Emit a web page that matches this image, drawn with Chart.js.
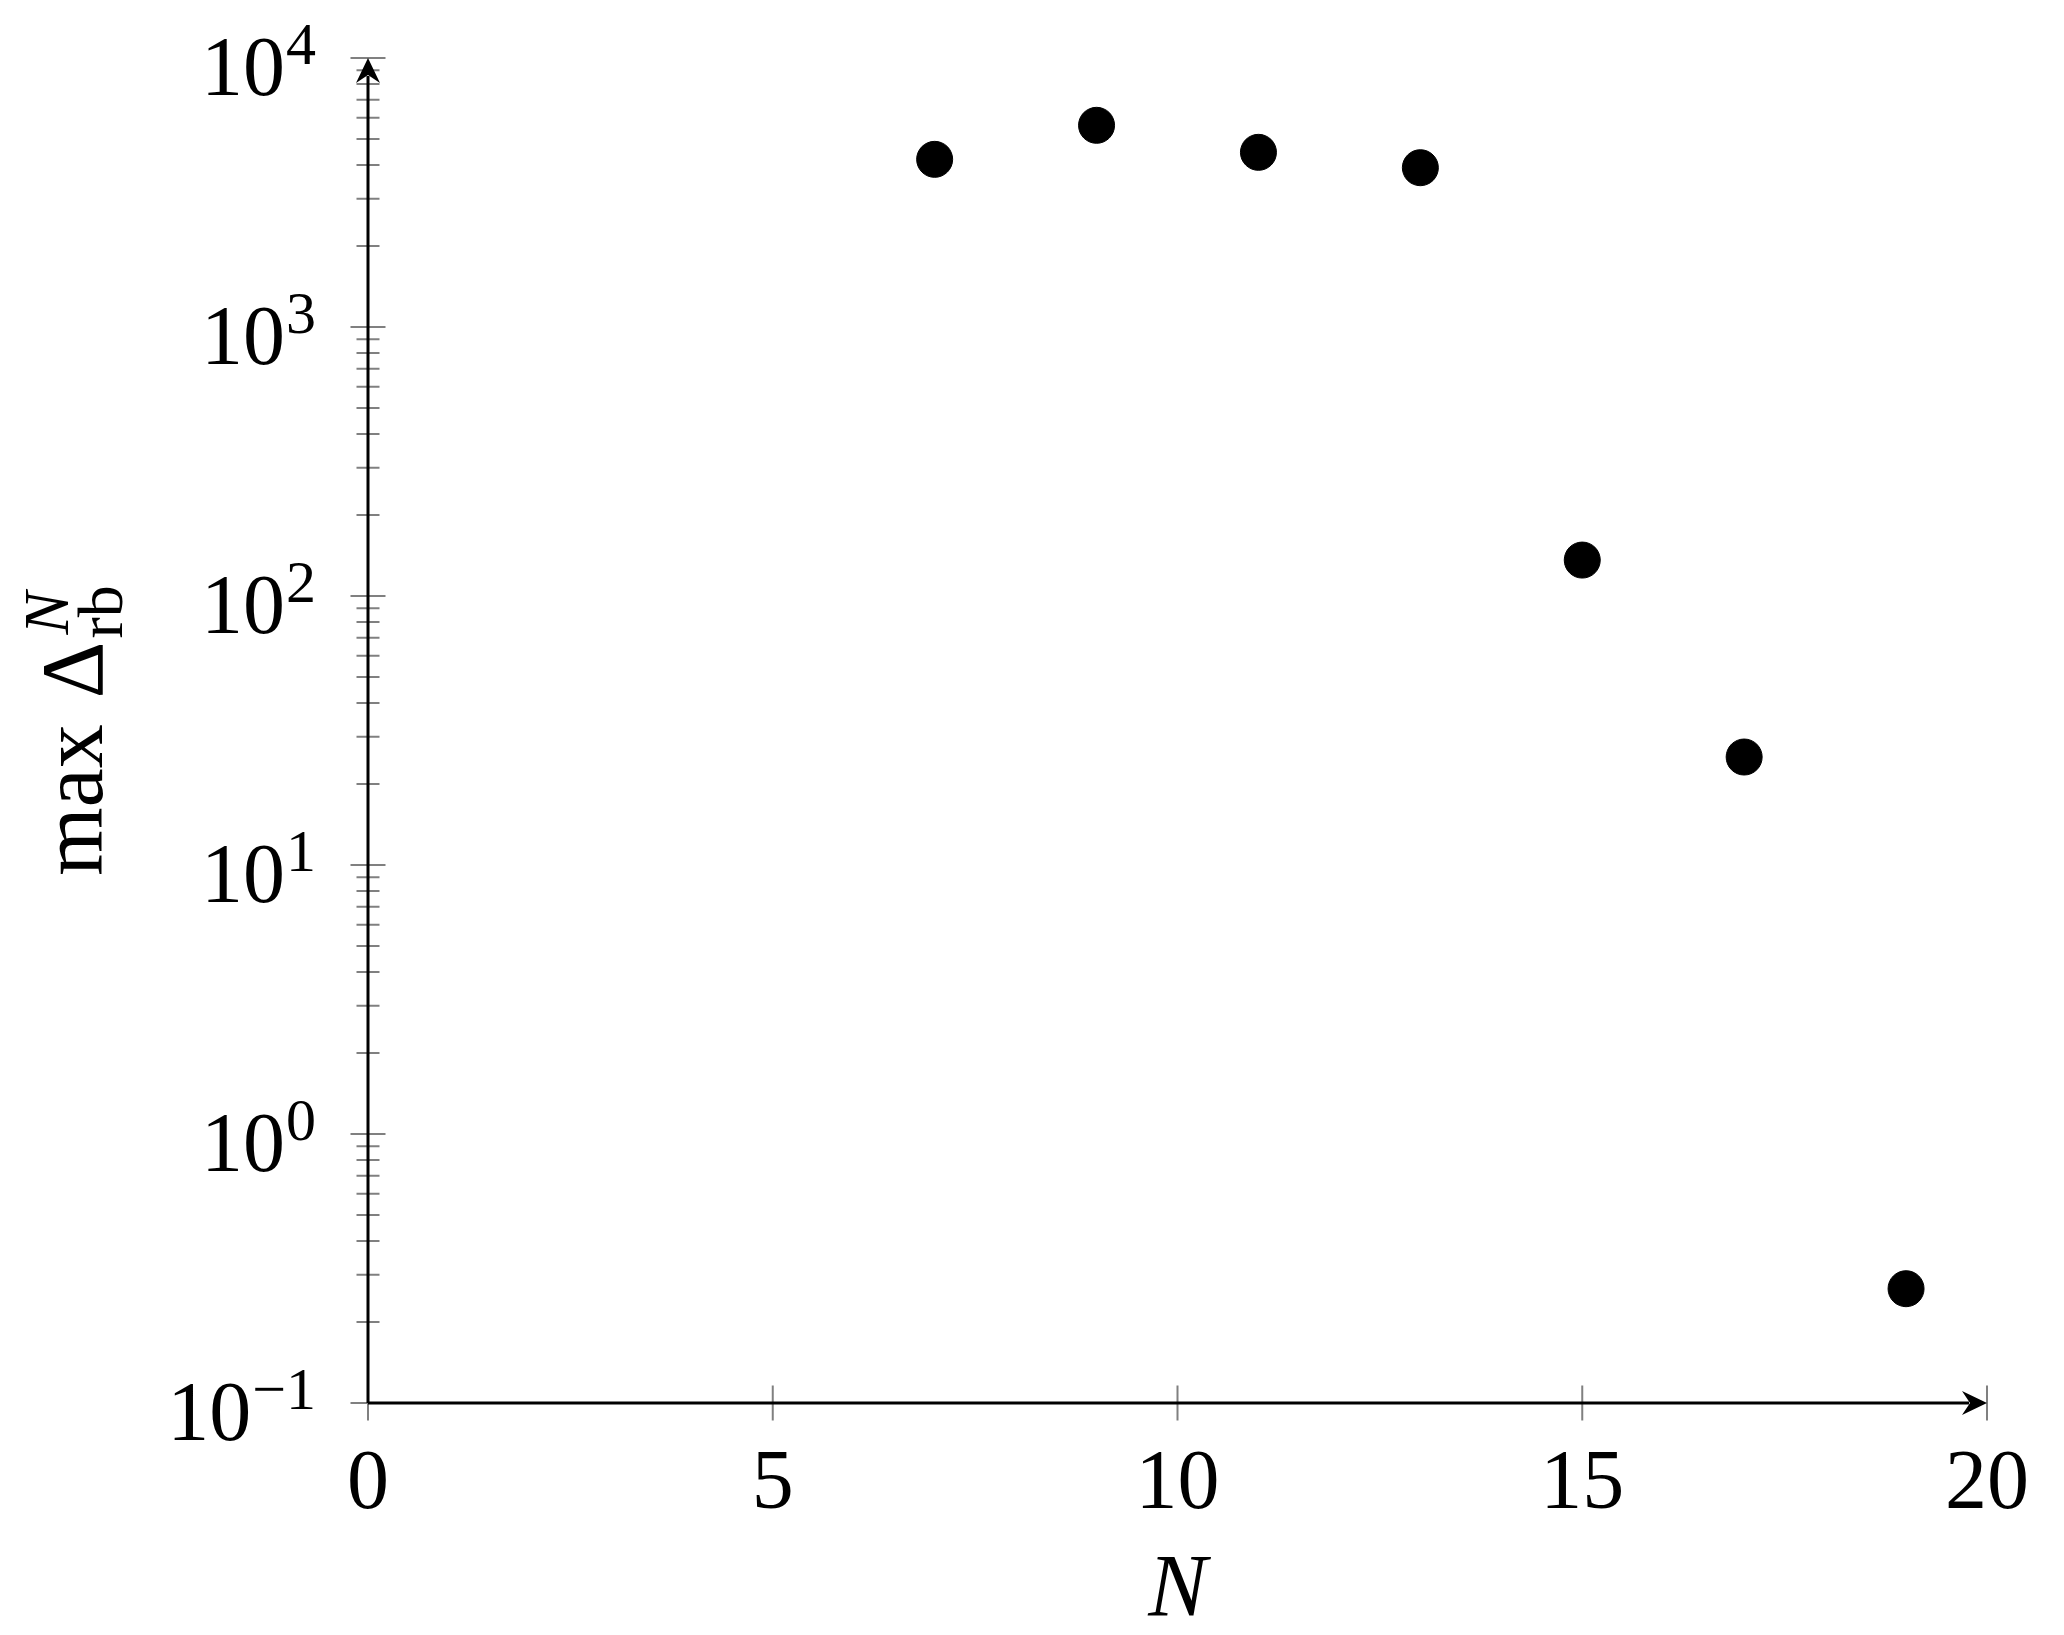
<!DOCTYPE html>
<html>
<head>
<meta charset="utf-8">
<script src="https://cdn.jsdelivr.net/npm/chart.js@4.4.0/dist/chart.umd.min.js"></script>
<style>
  body { margin: 0; background: #fff; }
</style>
</head>
<body>
<canvas id="deltaChart" width="2064" height="1635"></canvas>
<script>
// data
const nValues = [7, 9, 11, 13, 15, 17, 19];
const maxDelta = [4200, 5620, 4460, 3910, 136, 25.2, 0.266];
const xTicks = [0, 5, 10, 15, 20];
const yExponents = [-1, 0, 1, 2, 3, 4];

const SERIF = '"Liberation Serif", "DejaVu Serif", serif';

function arrowHead(ctx, tipX, tipY, dx, dy) {
  // stealth-ish arrow like tikz
  const len = 25, half = 12, notch = 17;
  const px = -dy, py = dx;
  ctx.beginPath();
  ctx.moveTo(tipX, tipY);
  ctx.lineTo(tipX - dx * len + px * half, tipY - dy * len + py * half);
  ctx.lineTo(tipX - dx * notch, tipY - dy * notch);
  ctx.lineTo(tipX - dx * len - px * half, tipY - dy * len - py * half);
  ctx.closePath();
  ctx.fill();
}

const axesPlugin = {
  id: 'tikzAxes',
  beforeDatasetsDraw(chart) {
    const ctx = chart.ctx;
    const xs = chart.scales.x, ys = chart.scales.y;
    const x0 = xs.getPixelForValue(0);
    const y0 = ys.getPixelForValue(0.1);
    const xEnd = xs.getPixelForValue(20);
    const yTop = ys.getPixelForValue(10000);

    ctx.save();
    // ticks
    ctx.strokeStyle = '#808080';
    ctx.lineWidth = 2;
    ctx.beginPath();
    yExponents.forEach(e => {
      const y = ys.getPixelForValue(Math.pow(10, e));
      ctx.moveTo(x0 - 17.5, y);
      ctx.lineTo(x0 + 17.5, y);
      if (e < 4) {
        for (let m = 2; m <= 9; m++) {
          const ym = ys.getPixelForValue(m * Math.pow(10, e));
          ctx.moveTo(x0 - 11.5, ym);
          ctx.lineTo(x0 + 11.5, ym);
        }
      }
    });
    xTicks.forEach(v => {
      const x = xs.getPixelForValue(v);
      ctx.moveTo(x, y0 - 17.5);
      ctx.lineTo(x, y0 + 17.5);
    });
    ctx.stroke();

    // axis lines with arrows
    ctx.strokeStyle = '#000';
    ctx.fillStyle = '#000';
    ctx.lineWidth = 3;
    ctx.beginPath();
    ctx.moveTo(x0, y0);
    ctx.lineTo(x0, yTop + 18);
    ctx.moveTo(x0, y0);
    ctx.lineTo(xEnd - 18, y0);
    ctx.stroke();
    arrowHead(ctx, x0, yTop, 0, -1);
    arrowHead(ctx, xEnd, y0, 1, 0);

    // x tick labels
    ctx.textAlign = 'center';
    ctx.textBaseline = 'alphabetic';
    ctx.font = '84px ' + SERIF;
    xTicks.forEach(v => {
      ctx.fillText(String(v), xs.getPixelForValue(v), y0 + 105);
    });

    // y tick labels 10^e
    ctx.textAlign = 'left';
    const rightX = x0 - 53;
    yExponents.forEach(e => {
      const y = ys.getPixelForValue(Math.pow(10, e));
      const expText = e < 0 ? '\u2212' + Math.abs(e) : String(e);
      ctx.font = '60px ' + SERIF;
      const expW = ctx.measureText(expText).width;
      ctx.font = '84px ' + SERIF;
      const baseW = ctx.measureText('10').width;
      const start = rightX - expW - baseW;
      ctx.fillText('10', start, y + 37);
      ctx.font = '60px ' + SERIF;
      ctx.fillText(expText, start + baseW + 1, y + 6);
    });

    // x axis title
    ctx.textAlign = 'center';
    ctx.font = 'italic 88px ' + SERIF;
    ctx.fillText('N', (xs.left + xs.right) / 2, y0 + 212);

    // y axis title: max Δ^N_rb, rotated
    const cy = (ys.top + ys.bottom) / 2;
    ctx.translate(102, cy);
    ctx.rotate(-Math.PI / 2);
    ctx.textAlign = 'left';
    ctx.font = '88px ' + SERIF;
    const maxW = ctx.measureText('max').width;
    const gap = 26;
    const deltaW = ctx.measureText('\u0394').width;
    ctx.font = '64px ' + SERIF;
    const subW = ctx.measureText('rb').width;
    const totalW = maxW + gap + deltaW + 3 + subW;
    let tx = -totalW / 2;
    ctx.font = '88px ' + SERIF;
    ctx.fillText('max', tx, 0);
    tx += maxW + gap;
    ctx.fillText('\u0394', tx, 0);
    tx += deltaW + 3;
    ctx.font = 'italic 64px ' + SERIF;
    ctx.fillText('N', tx + 4, -34);
    ctx.font = '64px ' + SERIF;
    ctx.fillText('rb', tx, 20);
    ctx.restore();
  }
};

new Chart(document.getElementById('deltaChart'), {
  type: 'scatter',
  data: {
    datasets: [{
      label: 'max Delta',
      data: nValues.map((n, i) => ({ x: n, y: maxDelta[i] })),
      backgroundColor: '#000',
      borderColor: '#000',
      pointRadius: 18,
      pointHoverRadius: 18,
      clip: false
    }]
  },
  options: {
    responsive: false,
    animation: false,
    devicePixelRatio: 1,
    layout: {
      padding: { left: 368, right: 77, top: 58, bottom: 232 }
    },
    plugins: {
      legend: { display: false },
      tooltip: { enabled: false }
    },
    scales: {
      x: {
        type: 'linear',
        min: 0,
        max: 20,
        display: false
      },
      y: {
        type: 'logarithmic',
        min: 0.1,
        max: 10000,
        display: false
      }
    }
  },
  plugins: [axesPlugin]
});
</script>
</body>
</html>
